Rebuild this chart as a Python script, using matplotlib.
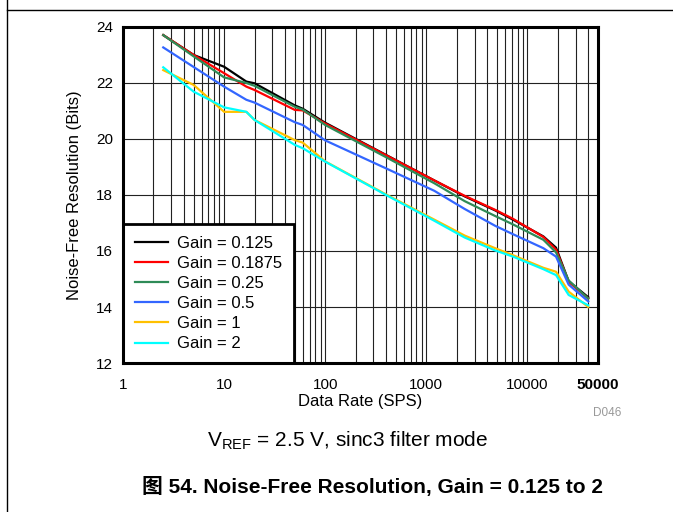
import matplotlib

matplotlib.use("Agg")  # рисуем без дисплея
import matplotlib.pyplot as plt  # pyplot для построения графика
from matplotlib.lines import Line2D  # линии рамки страницы
from matplotlib.ticker import FixedLocator, NullFormatter  # управление делениями осей

plt.rcParams["font.family"] = ["Liberation Sans", "Noto Sans CJK SC", "DejaVu Sans"]  # шрифт, похожий на Arial, и CJK для «图»

# частоты данных (SPS)
data_rates = [2.5, 5, 10, 16.6, 20, 50, 60, 100, 400, 1200, 2400, 4800, 7200, 14400, 19200, 25600, 40000]

# шумоподавленное разрешение (бит) для каждого коэффициента усиления
gain_0125 = [23.71, 23.0, 22.58, 22.05, 21.99, 21.2, 21.08, 20.58, 19.43, 18.52, 17.95, 17.45, 17.12, 16.52, 16.12, 14.92, 14.35]
gain_01875 = [23.71, 23.0, 22.35, 21.87, 21.75, 21.04, 21.02, 20.55, 19.42, 18.52, 17.97, 17.47, 17.15, 16.5, 16.05, 14.9, 14.3]
gain_025 = [23.71, 22.95, 22.2, 22.0, 21.9, 21.15, 21.05, 20.5, 19.35, 18.42, 17.78, 17.25, 16.95, 16.4, 15.95, 14.95, 14.3]
gain_05 = [23.27, 22.57, 21.87, 21.4, 21.3, 20.6, 20.5, 19.95, 18.95, 18.15, 17.5, 16.9, 16.6, 16.1, 15.8, 14.8, 14.2]
gain_1 = [22.46, 21.93, 20.97, 20.97, 20.68, 19.96, 19.87, 19.2, 18.02, 17.12, 16.55, 16.1, 15.85, 15.4, 15.26, 14.55, 14.0]
gain_2 = [22.56, 21.69, 21.13, 20.97, 20.68, 19.79, 19.67, 19.19, 18.0, 17.08, 16.48, 16.02, 15.8, 15.35, 15.14, 14.43, 14.06]

series = [gain_0125, gain_01875, gain_025, gain_05, gain_1, gain_2]  # все серии по порядку легенды
labels = ["Gain = 0.125", "Gain = 0.1875", "Gain = 0.25", "Gain = 0.5", "Gain = 1", "Gain = 2"]  # подписи легенды
colors = ["#000000", "#ff0000", "#2e8b57", "#3366ff", "#ffc000", "#00ffff"]  # цвета линий

x_ticks = [1, 10, 100, 1000, 10000, 50000]  # основные деления оси X
x_tick_labels = ["1", "10", "100", "1000", "10000", "50000"]  # подписи оси X
y_ticks = [12, 14, 16, 18, 20, 22, 24]  # деления оси Y

fig = plt.figure(figsize=(6.73, 5.12), dpi=100, facecolor="white")  # фигура 673x512
ax = fig.add_axes([0.1828, 0.2910, 0.7058, 0.6563])  # область построения

for values, label, color in zip(series, labels, colors):  # рисуем каждую серию
    ax.plot(data_rates, values, color=color, linewidth=1.6, label=label, zorder=3)

ax.set_xscale("log")  # логарифмическая шкала частот
ax.set_xlim(1, 50000)
ax.set_ylim(12, 24)

minor_ticks = [m * 10 ** d for d in range(0, 5) for m in range(2, 10) if m * 10 ** d < 50000]  # промежуточные линии сетки
ax.xaxis.set_major_locator(FixedLocator(x_ticks))
ax.xaxis.set_minor_locator(FixedLocator(minor_ticks))
ax.xaxis.set_minor_formatter(NullFormatter())
ax.set_xticklabels(x_tick_labels)
ax.get_xticklabels()[-1].set_fontweight("bold")  # последняя подпись выделена жирным
ax.set_yticks(y_ticks)

ax.tick_params(axis="both", which="both", length=0, labelsize=11)  # без видимых засечек
ax.tick_params(axis="x", pad=11)
ax.tick_params(axis="y", pad=7)

ax.grid(which="major", color="#222222", linewidth=0.8)  # основная сетка
ax.grid(which="minor", axis="x", color="#222222", linewidth=0.8)  # вертикальная сетка на промежуточных делениях

for spine in ax.spines.values():  # толстая рамка графика
    spine.set_linewidth(2.2)
    spine.set_zorder(5)

ax.set_xlabel("Data Rate (SPS)", fontsize=12, labelpad=1)
ax.set_ylabel("Noise-Free Resolution (Bits)", fontsize=12, labelpad=10)

legend = ax.legend(
    loc="lower left",
    bbox_to_anchor=(0, 0),
    borderaxespad=0,
    fontsize=12,
    frameon=True,
    fancybox=False,
    framealpha=1,
    edgecolor="black",
    handlelength=2.0,
    handletextpad=0.55,
    labelspacing=0.31,
    borderpad=0.7,
)
legend.get_frame().set_linewidth(2.0)  # толстая рамка легенды
legend.set_zorder(4)

fig.text(0.902, 0.194, "D046", fontsize=8.5, color="#999999", ha="center", va="center")  # код рисунка
fig.text(0.516, 0.140, r"V$_{\mathregular{REF}}$ = 2.5 V, sinc3 filter mode", fontsize=15, ha="center", va="center")  # условие измерения
fig.text(0.553, 0.049, "图 54. Noise-Free Resolution, Gain = 0.125 to 2", fontsize=15, fontweight="bold", ha="center", va="center")  # подпись рисунка

fig.add_artist(Line2D([0.0104, 1.0], [0.9814, 0.9814], color="black", linewidth=1.0, transform=fig.transFigure))  # верхняя линия страницы
fig.add_artist(Line2D([0.0104, 0.0104], [0.0, 1.0], color="black", linewidth=1.0, transform=fig.transFigure))  # левая линия страницы

fig.savefig("out.png", dpi=100, facecolor="white")  # сохраняем результат
plt.close(fig)
